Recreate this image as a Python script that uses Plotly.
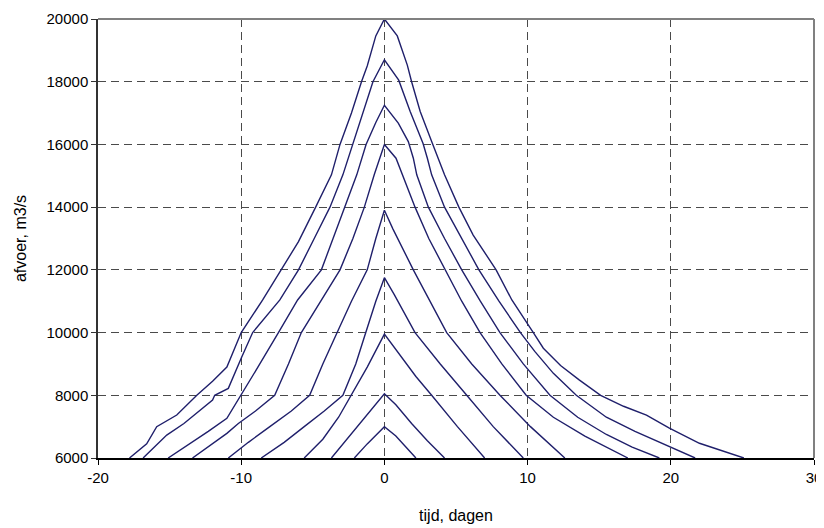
import plotly.graph_objects as go

# Afvoergolven (hydrographs) – tijd in dagen, afvoer in m3/s
c1_x = [-17.8, -16.6, -15.9, -14.5, -13.1, -12.0, -11.0, -10.0, -8.5, -7.2, -6.0, -4.8, -3.7, -3.1, -2.3, -1.6, -1.2, -0.6, 0,
        0.9, 1.6, 1.9, 2.5, 3.3, 3.8, 4.2, 5.2, 6.2, 7.8, 8.9, 10.4, 11.1, 12.3, 13.6, 15.1, 16.7, 18.3, 19.9, 22.0, 25.1]
c1_y = [6000, 6450, 7000, 7370, 8000, 8450, 8900, 10000, 11040, 12000, 12900, 14000, 15030, 16000, 17000, 18000, 18500, 19460, 20000,
        19460, 18530, 18000, 17050, 16090, 15500, 15030, 14000, 13110, 12000, 11040, 10000, 9500, 8950, 8490, 8000, 7650, 7370, 6950, 6470, 6000]

c2_x = [-16.85, -15.2, -14.0, -12.0, -11.85, -10.9, -10.0, -9.2, -7.3, -6.0, -4.9, -3.8, -2.9, -2.2, -1.5, -0.8, 0,
        1.0, 1.8, 2.3, 2.7, 3.0, 3.3, 4.2, 5.4, 6.6, 8.0, 9.5, 10.5, 11.8, 13.4, 15.5, 17.5, 20.0, 21.7]
c2_y = [6000, 6730, 7100, 7850, 8000, 8220, 9180, 10000, 11040, 12000, 13000, 14000, 15030, 16000, 17000, 18000, 18700,
        18050, 17050, 16460, 16030, 15560, 15030, 14000, 13000, 12000, 11000, 10000, 9400, 8700, 8000, 7300, 6850, 6330, 6000]

c3_x = [-15.1, -13.5, -12.3, -11.0, -10.0, -8.7, -7.4, -6.06, -4.4, -3.6, -2.8, -1.93, -1.28, -0.6, 0,
        0.97, 1.67, 2.02, 2.26, 3.07, 4.2, 5.4, 6.7, 8.07, 9.7, 11.56, 13.5, 15.5, 17.3, 19.2]
c3_y = [6000, 6470, 6850, 7265, 8000, 9000, 10000, 11040, 12000, 13000, 14000, 15030, 16000, 16700, 17250,
        16680, 16090, 15560, 15030, 14000, 13000, 12000, 11000, 10000, 9000, 8000, 7300, 6750, 6350, 6000]

c4_x = [-13.4, -12.3, -11.0, -10.2, -9.0, -7.66, -6.7, -5.8, -4.4, -3.1, -2.2, -1.4, -0.7, 0,
        0.81, 1.28, 2.14, 3.1, 4.23, 5.4, 6.68, 8.2, 9.9, 11.8, 14.0, 15.7, 17.0]
c4_y = [6000, 6360, 6785, 7100, 7500, 8000, 9000, 10000, 11040, 12000, 13000, 14000, 15050, 16000,
        15560, 15030, 14000, 13000, 12000, 11000, 10000, 9000, 8000, 7300, 6700, 6300, 6000]

c5_x = [-10.9, -9.5, -8.0, -6.5, -5.22, -4.3, -3.3, -2.3, -1.2, -0.6, 0,
        0.6, 2.02, 3.2, 4.35, 6.1, 8.07, 10.2, 12.6]
c5_y = [6000, 6500, 7000, 7500, 8000, 9000, 10000, 11000, 12000, 13000, 13900,
        13300, 12000, 11000, 10000, 9000, 8000, 7000, 6000]

c6_x = [-8.6, -7.0, -5.6, -4.2, -2.9, -2.0, -1.3, -0.6, 0,
        0.7, 2.14, 3.9, 5.75, 7.6, 9.7]
c6_y = [6000, 6500, 7000, 7500, 8000, 9000, 10000, 11000, 11750,
        11200, 10000, 9000, 8000, 7000, 6000]

c7_x = [-5.6, -4.3, -3.2, -2.3, -1.2, 0, 1.2, 2.2, 3.3, 5.1, 7.0]
c7_y = [6000, 6600, 7300, 8000, 8900, 9950, 9200, 8600, 8000, 7000, 6000]

c8_x = [-3.7, -2.6, -1.5, -0.6, 0, 0.8, 1.9, 3.0, 4.2]
c8_y = [6000, 6600, 7200, 7700, 8050, 7700, 7100, 6550, 6000]

c9_x = [-2.1, -1.2, 0, 0.8, 1.5, 2.2]
c9_y = [6000, 6450, 7000, 6700, 6350, 6000]

curves = [(c1_x, c1_y), (c2_x, c2_y), (c3_x, c3_y), (c4_x, c4_y), (c5_x, c5_y),
          (c6_x, c6_y), (c7_x, c7_y), (c8_x, c8_y), (c9_x, c9_y)]

x_ticks = [-20, -10, 0, 10, 20, 30]
y_ticks = [6000, 8000, 10000, 12000, 14000, 16000, 18000, 20000]

fig = go.Figure()
for cx, cy in curves:
    fig.add_trace(go.Scatter(x=cx, y=cy, mode="lines",
                             line=dict(color="#1f1f6b", width=1.4),
                             showlegend=False, hoverinfo="x+y"))

# page body has an 8px margin; plot area in the reference spans x 98..814, y 19..458
fig.update_layout(
    width=824, height=528,
    margin=dict(l=90, r=18, t=11, b=78, autoexpand=False),
    paper_bgcolor="white", plot_bgcolor="white",
    font=dict(family="Liberation Sans, Arial, sans-serif", size=15, color="#000000"),
    showlegend=False,
)
fig.update_xaxes(
    range=[-20, 30], tickvals=x_ticks, ticktext=[str(v) for v in x_ticks],
    showgrid=True, gridcolor="#4a4a4a", griddash="8px,5px", gridwidth=1,
    showline=True, linecolor="#000000", linewidth=1.5, mirror=False,
    ticks="outside", ticklen=5, tickcolor="#000000",
    tickfont=dict(size=15),
    zeroline=False, automargin=False,
    title=dict(text="tijd, dagen", standoff=25, font=dict(size=16)),
)
fig.update_yaxes(
    range=[6000, 20000], tickvals=y_ticks, ticktext=[str(v) for v in y_ticks],
    showgrid=True, gridcolor="#4a4a4a", griddash="8px,5px", gridwidth=1,
    showline=True, linecolor="#333333", linewidth=1.5,
    ticks="outside", ticklen=5, tickcolor="#333333",
    tickfont=dict(size=15),
    zeroline=False, automargin=False,
    title=dict(text="afvoer, m3/s", standoff=16, font=dict(size=16)),
)
# grey plot-area frame on top and right (Excel style)
fig.add_shape(type="line", xref="paper", yref="paper", x0=0, x1=1, y0=1, y1=1,
              line=dict(color="#808080", width=2))
fig.add_shape(type="line", xref="paper", yref="paper", x0=1, x1=1, y0=0, y1=1,
              line=dict(color="#808080", width=2))

fig.write_html("out.html")
